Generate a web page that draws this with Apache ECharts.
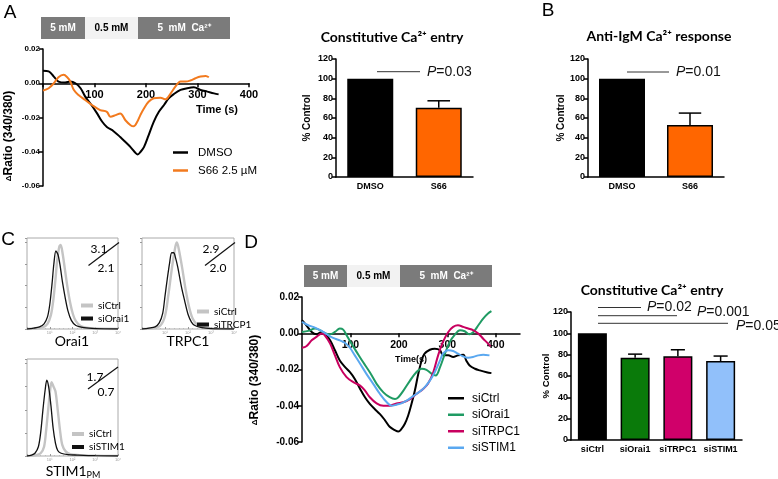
<!DOCTYPE html>
<html><head><meta charset="utf-8">
<script src="https://cdn.jsdelivr.net/npm/echarts@6/dist/echarts.min.js"></script>
<style>html,body{margin:0;padding:0;background:#fff}#c{width:778px;height:479px}</style>
</head><body><div id="c"></div>
<script>
// ---------------- DATA ----------------
// Panel A trace (time s, ΔRatio)
const timeA_DMSO = [0,11,21,30,43,53,63,73,82,92,105,115,124,137,150,160,170,180,184,189,196,205,215,225,235,244,254,267,280,293,306,319,332,341];
const ratioA_DMSO = [0.0073,0.0069,0.0039,0.001,0.0004,0.001,0,-0.0029,-0.0078,-0.0118,-0.0176,-0.0225,-0.0255,-0.028,-0.0314,-0.0343,-0.0373,-0.0408,-0.0416,-0.0402,-0.0373,-0.0304,-0.0225,-0.0167,-0.0127,-0.0088,-0.0063,-0.0039,-0.0029,-0.0024,-0.0039,-0.0049,-0.0059,-0.0065];
const timeA_S66 = [0,11,21,30,40,47,53,60,69,82,95,111,124,131,141,150,160,170,176,183,189,196,205,215,228,238,248,257,267,277,286,296,306,316,322];
const ratioA_S66 = [-0.0043,-0.0029,0,0.0035,0.0049,0.0035,0.001,-0.004,-0.0069,-0.0098,-0.0127,-0.0157,-0.0167,-0.0196,-0.0186,-0.0176,-0.0216,-0.0245,-0.0251,-0.0225,-0.0186,-0.0147,-0.0108,-0.0088,-0.0084,-0.0094,-0.0059,-0.002,0.001,0.001,0.0016,0.0029,0.0039,0.0043,0.0035];

// Panel A / B bars (% control)
const catsAB = ['DMSO','S66'];
const constEntryA = [100, 70.5];
const constEntryA_err = [0, 7];
const antiIgmB = [100, 53];
const antiIgmB_err = [0, 12];

// Panel C histograms (x in decades of fluorescence, y = % of max)
const orai_ctrl_x = [0,0.4,0.7,0.9,1.05,1.15,1.25,1.33,1.42,1.48,1.56,1.66,1.78,1.9,2.02,2.15,2.35,2.6,3,4];
const orai_ctrl_y = [0,0.5,2,6,16,32,57,80,95,97,88,70,48,30,17,9,3.5,1.5,0.5,0];
const orai_si_x = [0,0.3,0.55,0.75,0.9,1.0,1.1,1.18,1.27,1.36,1.45,1.56,1.68,1.8,1.95,2.15,2.5,3.0,4];
const orai_si_y = [0,1,2.5,6,14,28,52,75,90,86,74,54,36,21,10,4,1.5,0.4,0];
const trpc_ctrl_x = [0,0.5,0.8,1.0,1.15,1.3,1.45,1.52,1.6,1.75,1.9,2.05,2.2,2.4,2.7,3,4];
const trpc_ctrl_y = [0,1,4,15,40,70,95,100,92,70,45,25,12,5,2,0.5,0];
const trpc_si_x = [0,0.3,0.57,0.75,0.9,1.0,1.1,1.2,1.29,1.38,1.45,1.55,1.72,1.85,2.0,2.15,2.3,2.6,3,4];
const trpc_si_y = [0,1,2.5,7,18,38,58,76,88,88,83,72,48,33,17,8,4,1.5,0.5,0];
const stim_ctrl_x = [0,0.4,0.6,0.75,0.85,0.95,1.02,1.08,1.15,1.25,1.35,1.45,1.55,1.7,1.9,2.3,3,4];
const stim_ctrl_y = [0,1,3,10,30,55,72,80,76,70,50,28,12,5,2,1,0.3,0];
const stim_si_x = [0,0.2,0.35,0.5,0.6,0.7,0.8,0.87,0.95,1.05,1.15,1.25,1.35,1.5,1.8,2.2,3,4];
const stim_si_y = [0,1,3,10,25,50,72,82,75,55,30,14,6,3,1.5,1,0.3,0];

// Panel D traces
const timeD_siCtrl = [0,9,20,30,41,47,58,68,78,89,99,109,120,130,140,150,161,171,181,192,199,205,212,219,226,233,240,247,253,264,274,285,291,302,312,322,333,339,346,357,367,381,391];
const ratioD_siCtrl = [0.0072,0.0044,0.0007,-0.0006,0.0007,0,-0.0039,-0.0094,-0.015,-0.0187,-0.0215,-0.0252,-0.0307,-0.0353,-0.039,-0.0418,-0.0446,-0.0479,-0.0516,-0.0535,-0.0542,-0.0529,-0.0501,-0.0455,-0.039,-0.0316,-0.0224,-0.015,-0.0113,-0.0091,-0.0085,-0.0094,-0.0122,-0.0122,-0.0131,-0.0122,-0.0118,-0.015,-0.0178,-0.0196,-0.0205,-0.0215,-0.022];
const timeD_siOrai1 = [0,13,27,37,47,58,68,78,85,92,102,113,126,140,154,168,181,192,199,209,223,236,247,257,268,276,285,295,305,316,326,336,345,354,364,374,384,391];
const ratioD_siOrai1 = [0.0007,0.0013,0.0026,0.0017,0,-0.0006,0.0007,0.0026,0.002,-0.0011,-0.0057,-0.0104,-0.0159,-0.0215,-0.0279,-0.0326,-0.0353,-0.0363,-0.0353,-0.0318,-0.0261,-0.0215,-0.0196,-0.0202,-0.0224,-0.0233,-0.0187,-0.0113,-0.0048,-0.0006,0.0017,0.0011,-0.0006,0.0007,0.0044,0.0081,0.0109,0.0122];
const timeD_siTRPC1 = [0,9,20,30,41,47,58,68,78,92,106,120,130,140,154,168,181,195,209,223,236,250,260,271,281,291,302,312,322,333,343,353,364,374,384,389];
const ratioD_siTRPC1 = [-0.008,-0.0072,-0.0039,-0.002,-0.0002,-0.0011,-0.0057,-0.0122,-0.0187,-0.0242,-0.027,-0.0289,-0.0316,-0.0353,-0.0387,-0.04,-0.04,-0.0387,-0.0381,-0.0363,-0.0335,-0.0307,-0.0279,-0.0215,-0.0122,-0.0048,0.0007,0.0035,0.0044,0.0035,0.0026,0.0017,-0.0002,-0.003,-0.0057,-0.0072];
const timeD_siSTIM1 = [0,13,23,37,47,58,68,78,89,99,109,120,133,147,161,175,185,195,205,216,226,236,250,264,274,285,291,302,312,322,333,343,353,364,374,387];
const ratioD_siSTIM1 = [0.0063,0.0044,0.0035,0.0017,0.0002,-0.0017,-0.003,-0.0039,-0.0054,-0.008,-0.0122,-0.0168,-0.0224,-0.0279,-0.0335,-0.0381,-0.04,-0.0394,-0.0387,-0.0372,-0.0353,-0.0335,-0.0307,-0.0261,-0.0215,-0.015,-0.0113,-0.0094,-0.0098,-0.0113,-0.0128,-0.0135,-0.0131,-0.0122,-0.0118,-0.0122];

// Panel D bars
const catsD = ['siCtrl','siOrai1','siTRPC1','siSTIM1'];
const constEntryD = [100, 77.2, 78.6, 74];
const constEntryD_err = [0, 3.3, 6, 4.7];

// Tick labels
const decadeLabels = ['', '10¹', '10²', '10³', '10⁴'];

// ---------------- BUILD ----------------
const F = '"Liberation Sans", Arial, sans-serif';
const L = 'Lato, "Liberation Sans", sans-serif';
const zip = (a, b) => a.map((v, i) => [v, b[i]]);

function errRender(params, api) {
  const x = api.value(0), v = api.value(1), e = api.value(2);
  if (!e) return null;
  const b = api.coord([x, v]), t = api.coord([x, v + e]);
  const hw = api.size([1, 0])[0] * 0.165;
  const st = {stroke: '#000', lineWidth: 1.5};
  return {type: 'group', children: [
    {type: 'line', shape: {x1: b[0], y1: b[1], x2: t[0], y2: t[1]}, style: st},
    {type: 'line', shape: {x1: t[0] - hw, y1: t[1], x2: t[0] + hw, y2: t[1]}, style: st}
  ]};
}

const axLine = {show: true, onZero: false, lineStyle: {color: '#000', width: 1.5}};
const axTick = {show: true, length: 4, lineStyle: {color: '#000', width: 1.5}};

function traceX(grid, max, size, margin, custom) {
  const o = {gridIndex: grid, type: 'value', min: 0, max: max, interval: 100,
    axisLine: {show: true, onZero: true, lineStyle: {color: '#000', width: 1.5}},
    axisTick: {show: true, length: 4, lineStyle: {color: '#000', width: 1.5}},
    axisLabel: {fontSize: size, fontWeight: 'bold', color: '#000', fontFamily: F, margin: margin,
      formatter: v => (v === 0 ? '' : String(v))},
    splitLine: {show: false}};
  if (custom) { o.axisLabel.customValues = custom; o.axisTick.customValues = custom; }
  return o;
}
function traceY(grid, size) {
  return {gridIndex: grid, type: 'value', min: -0.06, max: 0.02, interval: 0.02,
    axisLine: axLine, axisTick: axTick,
    axisLabel: {fontSize: size, fontWeight: 'bold', color: '#000', fontFamily: F, margin: 3,
      formatter: v => v.toFixed(2)},
    splitLine: {show: false}};
}
function barX(grid, cats, size) {
  return {gridIndex: grid, type: 'category', data: cats,
    axisLine: {show: true, lineStyle: {color: '#000', width: 1.5}}, axisTick: {show: false},
    axisLabel: {fontSize: size, fontWeight: 'bold', color: '#000', fontFamily: F, margin: 5, interval: 0}};
}
function barY(grid, size) {
  return {gridIndex: grid, type: 'value', min: 0, max: 120, interval: 20,
    axisLine: axLine, axisTick: axTick,
    axisLabel: {fontSize: size, fontWeight: 'bold', color: '#000', fontFamily: F, margin: 3},
    splitLine: {show: false}};
}
function histX(grid) {
  return {gridIndex: grid, type: 'value', min: 0, max: 4, interval: 1,
    axisLine: {show: false}, axisTick: {show: true, inside: true, length: 2, lineStyle: {color: '#999'}},
    minorTick: {show: true, splitNumber: 5, length: 1, lineStyle: {color: '#bbb'}},
    axisLabel: {fontSize: 4, color: '#999', margin: 2, formatter: v => decadeLabels[v] || ''},
    splitLine: {show: false}};
}
function histY(grid) {
  return {gridIndex: grid, type: 'value', min: 0, max: 105, interval: 25,
    axisLine: {show: false}, axisTick: {show: true, inside: false, length: 2, lineStyle: {color: '#999'}},
    axisLabel: {show: false}, splitLine: {show: false}};
}
function bars(grid, cats, vals, colors, width) {
  return {type: 'bar', xAxisIndex: grid, yAxisIndex: grid, barWidth: width,
    data: vals.map((v, i) => ({value: v, name: cats[i], itemStyle: {color: colors[i]}})),
    itemStyle: {borderColor: '#000', borderWidth: 1.5}, silent: true, z: 2};
}
function errs(grid, vals, es) {
  return {type: 'custom', xAxisIndex: grid, yAxisIndex: grid, renderItem: errRender,
    encode: {x: 0, y: 1}, data: vals.map((v, i) => [i, v, es[i]]), z: 3, silent: true};
}
function trace(name, grid, xs, ys, color, w) {
  return {name: name, type: 'line', xAxisIndex: grid, yAxisIndex: grid, data: zip(xs, ys),
    showSymbol: false, smooth: 0.35, lineStyle: {color: color, width: w}, itemStyle: {color: color}, z: 4};
}
function hist(name, grid, xs, ys, color, w) {
  return {name: name, type: 'line', xAxisIndex: grid, yAxisIndex: grid, data: zip(xs, ys),
    showSymbol: false, smooth: 0.3, lineStyle: {color: color, width: w}, itemStyle: {color: color}};
}

function T(x, y, text, o) {
  o = o || {};
  const st = {text: text, fill: o.fill || '#000', fontSize: o.size || 11, fontWeight: o.weight || 'normal',
    fontFamily: o.family || F, align: o.align || 'center', verticalAlign: 'middle',
    textAlign: o.align || 'center', textVerticalAlign: 'middle'};
  if (o.rich) st.rich = o.rich;
  return {type: 'text', x: x, y: y, rotation: o.rot || 0, z: 100, style: st};
}
function R(x, y, w, h, fill) { return {type: 'rect', shape: {x: x, y: y, width: w, height: h}, style: {fill: fill}, z: 90}; }
function Ln(x1, y1, x2, y2, c, w) { return {type: 'line', shape: {x1: x1, y1: y1, x2: x2, y2: y2}, style: {stroke: c || '#333', lineWidth: w || 1}, z: 95}; }

const DARK = '#7b7b7b', LIGHT = '#f2f2f2';
const pRich = {i: {fontStyle: 'italic', fontSize: 14, fontFamily: F, fill: '#111'}, n: {fontSize: 14, fontFamily: F, fill: '#111'}};
const yRich = {d: {fontSize: 8, fontWeight: 'bold', fontFamily: F, fill: '#000'}, n: {fontSize: 12, fontWeight: 'bold', fontFamily: F, fill: '#000'}};

const graphic = [
  // panel letters
  T(10, 13, 'A', {size: 19}), T(548, 11, 'B', {size: 19}), T(8, 240, 'C', {size: 19}), T(251, 243, 'D', {size: 19}),
  // header A
  R(41, 17, 44, 22, DARK), R(85, 17, 53, 22, LIGHT), R(138, 17, 92, 22, DARK),
  T(63, 28, '5 mM', {fill: '#fff', size: 10, weight: 'bold'}),
  T(111.5, 28, '0.5 mM', {size: 10, weight: 'bold'}),
  T(184, 28, '5  mM  Ca²⁺', {fill: '#fff', size: 10, weight: 'bold'}),
  // header D
  R(304, 265, 43, 22, DARK), R(347, 265, 53, 22, LIGHT), R(400, 265, 92, 22, DARK),
  T(325.5, 276, '5 mM', {fill: '#fff', size: 10, weight: 'bold'}),
  T(373.5, 276, '0.5 mM', {size: 10, weight: 'bold'}),
  T(446, 276, '5  mM  Ca²⁺', {fill: '#fff', size: 10, weight: 'bold'}),
  // axis names A line
  T(9, 136, '{d|Δ}{n|Ratio (340/380)}', {rot: Math.PI / 2, rich: yRich}),
  T(217, 110, 'Time (s)', {size: 11, weight: 'bold'}),
  // axis names D line
  T(255, 380, '{d|Δ}{n|Ratio (340/380)}', {rot: Math.PI / 2, rich: yRich}),
  T(411, 360, 'Time(s)', {size: 9, weight: 'bold'}),
  // bar titles / names
  T(392, 37.5, 'Constitutive Ca²⁺ entry', {family: L, size: 14, weight: 'bold'}),
  T(659, 36, 'Anti-IgM Ca²⁺ response', {family: L, size: 14, weight: 'bold'}),
  T(652, 290, 'Constitutive Ca²⁺ entry', {family: L, size: 14, weight: 'bold'}),
  T(307, 118, '% Control', {rot: Math.PI / 2, size: 10, weight: 'bold'}),
  T(561, 118, '% Control', {rot: Math.PI / 2, size: 10, weight: 'bold'}),
  T(546, 376, '% Control', {rot: Math.PI / 2, size: 9.5, weight: 'bold'}),
  // P value brackets
  Ln(377, 71.7, 420, 71.7), T(427, 72.5, '{i|P}{n|=0.03}', {align: 'left', rich: pRich}),
  Ln(627, 72, 669, 72), T(676, 72.5, '{i|P}{n|=0.01}', {align: 'left', rich: pRich}),
  Ln(598, 307.5, 641, 307.5), T(647, 307.5, '{i|P}{n|=0.02}', {align: 'left', rich: pRich}),
  Ln(598, 315.7, 677, 315.7), T(697, 312.5, '{i|P}{n|=0.001}', {align: 'left', rich: pRich}),
  Ln(598, 323.3, 728, 323.3), T(736, 325.7, '{i|P}{n|=0.05}', {align: 'left', rich: pRich}),
  // panel C annotations
  T(99, 249, '3.1', {family: L, size: 12}), Ln(88.5, 265.5, 119, 242.5, '#111', 1.2), T(106, 268, '2.1', {family: L, size: 12}),
  T(211, 249, '2.9', {family: L, size: 12}), Ln(205, 265.5, 235, 242.5, '#111', 1.2), T(218, 268, '2.0', {family: L, size: 12}),
  T(95, 377, '1.7', {family: L, size: 12}), Ln(88, 389, 118, 367, '#111', 1.2), T(106, 392, '0.7', {family: L, size: 12}),
  T(72, 341, 'Orai1', {family: L, size: 14}),
  T(188, 341, 'TRPC1', {family: L, size: 14}),
  T(73, 471, '{n|STIM1}{s|PM}', {rich: {n: {fontFamily: L, fontSize: 14, fill: '#000'}, s: {fontFamily: L, fontSize: 9, fill: '#000', padding: [8, 0, 0, 0]}}})
];

const lgText = (size, pad) => ({fontSize: size, fontFamily: F, color: '#000', lineHeight: size + 0.5, padding: [0, 0, 0, pad]});
const hLg = (left, top, names) => ({data: names, orient: 'vertical', left: left, top: top, icon: 'rect',
  itemWidth: 12, itemHeight: 4, itemGap: 3, selectedMode: false, formatter: n => n.split(' ')[1],
  textStyle: {fontSize: 10, fontFamily: L, color: '#000', lineHeight: 10, padding: [0, 0, 0, 0]}});

const option = {
  animation: false,
  backgroundColor: '#fff',
  grid: [
    {left: 43, top: 49, width: 206, height: 137},
    {left: 336, top: 59, width: 137, height: 118},
    {left: 588, top: 59, width: 136, height: 118},
    {left: 27, top: 238, width: 91, height: 91, show: true, borderColor: '#aaa', borderWidth: 1},
    {left: 142, top: 238, width: 92, height: 91, show: true, borderColor: '#aaa', borderWidth: 1},
    {left: 27, top: 359, width: 91, height: 97, show: true, borderColor: '#aaa', borderWidth: 1},
    {left: 302, top: 297, width: 218, height: 145},
    {left: 571, top: 312, width: 171, height: 128}
  ],
  xAxis: [traceX(0, 400, 11, -97), barX(1, catsAB, 9), barX(2, catsAB, 9), histX(3), histX(4), histX(5),
    traceX(6, 450, 10.5, -102, [100, 200, 300, 400]), barX(7, catsD, 9)],
  yAxis: [traceY(0, 8), barY(1, 9), barY(2, 9), histY(3), histY(4), histY(5), traceY(6, 10), barY(7, 9)],
  legend: [
    {data: ['DMSO', 'S66 2.5 µM'], orient: 'vertical', left: 168, top: 141.5, icon: 'rect', itemWidth: 15, itemHeight: 2.5,
      itemGap: 6, selectedMode: false, textStyle: lgText(11.5, 5)},
    {data: ['siCtrl', 'siOrai1', 'siTRPC1', 'siSTIM1'], orient: 'vertical', left: 443, top: 387, icon: 'rect', itemWidth: 16,
      itemHeight: 2.5, itemGap: 4, selectedMode: false, textStyle: lgText(12, 3)},
    hLg(76, 295.5, ['Orai1 siCtrl', 'Orai1 siOrai1']),
    hLg(192, 301.5, ['TRPC1 siCtrl', 'TRPC1 siTRCP1']),
    hLg(67, 424, ['STIM1 siCtrl', 'STIM1 siSTIM1'])
  ],
  graphic: graphic,
  series: [
    trace('DMSO', 0, timeA_DMSO, ratioA_DMSO, '#000', 2),
    trace('S66 2.5 µM', 0, timeA_S66, ratioA_S66, '#f27a1e', 2),
    bars(1, catsAB, constEntryA, ['#000', '#ff6600'], 46), errs(1, constEntryA, constEntryA_err),
    bars(2, catsAB, antiIgmB, ['#000', '#ff6600'], 46), errs(2, antiIgmB, antiIgmB_err),
    hist('Orai1 siCtrl', 3, orai_ctrl_x, orai_ctrl_y, '#c4c4c4', 2.4),
    hist('Orai1 siOrai1', 3, orai_si_x, orai_si_y, '#111', 1.3),
    hist('TRPC1 siCtrl', 4, trpc_ctrl_x, trpc_ctrl_y, '#c4c4c4', 2.4),
    hist('TRPC1 siTRCP1', 4, trpc_si_x, trpc_si_y, '#111', 1.3),
    hist('STIM1 siCtrl', 5, stim_ctrl_x, stim_ctrl_y, '#c4c4c4', 2.4),
    hist('STIM1 siSTIM1', 5, stim_si_x, stim_si_y, '#111', 1.3),
    trace('siCtrl', 6, timeD_siCtrl, ratioD_siCtrl, '#000', 2),
    trace('siOrai1', 6, timeD_siOrai1, ratioD_siOrai1, '#1f9b63', 2),
    trace('siTRPC1', 6, timeD_siTRPC1, ratioD_siTRPC1, '#c8005f', 2),
    trace('siSTIM1', 6, timeD_siSTIM1, ratioD_siSTIM1, '#5aa8f0', 2),
    bars(7, catsD, constEntryD, ['#000', '#0a7a0a', '#d0006a', '#91c0fa'], 29), errs(7, constEntryD, constEntryD_err)
  ]
};
const chart = echarts.init(document.getElementById('c'));
chart.setOption(option);
</script>
</body></html>
